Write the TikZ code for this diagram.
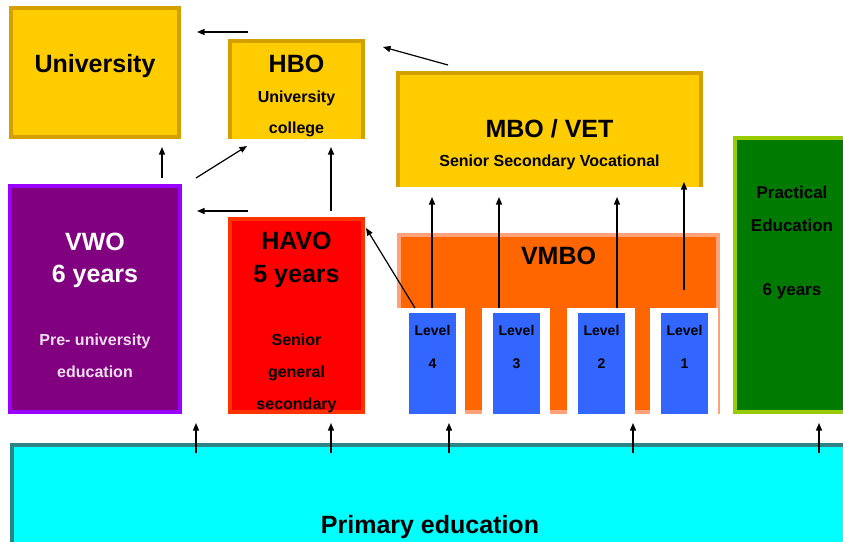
\documentclass[tikz,border=0pt]{standalone}
\usepackage{fontspec}
\setmainfont{Liberation Sans}
\usetikzlibrary{arrows.meta,calc}
\definecolor{goldfill}{HTML}{FFCC00}
\definecolor{goldline}{HTML}{D4A000}
\definecolor{purpfill}{HTML}{800080}
\definecolor{purpline}{HTML}{9900FF}
\definecolor{redfill}{HTML}{FF0000}
\definecolor{redline}{HTML}{FF3300}
\definecolor{orfill}{HTML}{FF6600}
\definecolor{orline}{HTML}{FFA27A}
\definecolor{bluefill}{HTML}{3366FF}
\definecolor{greenfill}{HTML}{007A00}
\definecolor{greenline}{HTML}{99CC00}
\definecolor{cyanfill}{HTML}{00FFFF}
\definecolor{cyanline}{HTML}{2E8484}
\definecolor{paletext}{HTML}{F2DDF2}
\begin{document}
\begin{tikzpicture}[x=1pt,y=-1pt,
  box/.style={inner sep=0pt, outer sep=0pt, line width=4pt},
  big/.style={font=\bfseries\fontsize{25}{30}\selectfont, anchor=base, inner sep=0pt},
  small/.style={font=\bfseries\fontsize{16}{19}\selectfont, anchor=base, inner sep=0pt},
  mid/.style={font=\bfseries\fontsize{17}{20}\selectfont, anchor=base, inner sep=0pt},
  lvl/.style={font=\bfseries\fontsize{14}{17}\selectfont, anchor=base, inner sep=0pt},
  arr/.style={line width=1.2pt, -{Triangle[length=7.5pt,width=6pt]}}]
\useasboundingbox (0,0) rectangle (843,541);
\fill[white] (0,0) rectangle (843,541);
% University
\node[box, fill=goldfill, draw=goldline, minimum width=168pt, minimum height=129pt] (uni) at (95,72.5) {};
\node[big] (unit) at (95,72) {University};
% HBO
\node[box, fill=goldfill, minimum width=137pt, minimum height=100pt] (hbo) at (296.5,89) {};
\draw[goldline, line width=4pt] ($(hbo.south west)+(2,0)$) -- ($(hbo.north west)+(2,2)$) -- ($(hbo.north east)+(-2,2)$) -- ($(hbo.south east)+(-2,0)$);
\node[big] (hbot) at (296.5,72) {HBO};
\node[small] (hbos1) at (296.5,102) {University};
\node[small] (hbos2) at (296.5,133) {college};
% MBO
\node[box, fill=goldfill, minimum width=307pt, minimum height=116pt] (mbo) at (549.5,129) {};
\draw[goldline, line width=4pt] ($(mbo.south west)+(2,0)$) -- ($(mbo.north west)+(2,2)$) -- ($(mbo.north east)+(-2,2)$) -- ($(mbo.south east)+(-2,0)$);
\node[big] (mbot) at (549.5,137) {MBO / VET};
\node[small] (mbos) at (549.5,166) {Senior Secondary Vocational};
% Practical education
\node[box, fill=greenfill, draw=greenline, minimum width=110pt, minimum height=274pt] (prac) at (790,275) {};
\node[mid] (prac1) at (792,198) {Practical};
\node[mid] (prac2) at (792,231) {Education};
\node[mid] (prac3) at (792,295) {6 years};
% VWO
\node[box, fill=purpfill, draw=purpline, minimum width=170pt, minimum height=226pt] (vwo) at (95,299) {};
\node[big, text=white] (vwo1) at (95,250) {VWO};
\node[big, text=white] (vwo2) at (95,282) {6 years};
\node[small, text=paletext] (vwo3) at (95,345) {Pre- university};
\node[small, text=paletext] (vwo4) at (95,377) {education};
% HAVO
\node[box, fill=redfill, draw=redline, minimum width=133pt, minimum height=193pt] (havo) at (296.5,315.5) {};
\node[big] (havo1) at (296.5,249) {HAVO};
\node[big] (havo2) at (296.5,282) {5 years};
\node[small] (havo3) at (296.5,345) {Senior};
\node[small] (havo4) at (296.5,377) {general};
\node[small] (havo5) at (296.5,409) {secondary};
% VMBO
\node[box, fill=orfill, draw=orline, minimum width=319pt, minimum height=177pt] (vmbo) at (558.5,323.5) {};
\node[big] (vmbot) at (558.5,264) {VMBO};
\foreach \n/\sx/\bx/\d in {four/431/432.5/4, three/516/516.5/3, two/600.5/601.5/2, one/684/684.5/1}{
  \node[inner sep=0pt, fill=white, minimum width=68pt, minimum height=106pt] (slot\n) at (\sx,361) {};
  \node[inner sep=0pt, fill=bluefill, minimum width=47pt, minimum height=101pt] (lev\n) at (\bx,363.5) {};
  \node[lvl] (levt\n) at (\bx,335) {Level};
  \node[lvl] (levd\n) at (\bx,368) {\d};
}
% Primary
\node[box, fill=cyanfill, draw=cyanline, minimum width=836pt, minimum height=110pt] (prim) at (430,500) {};
\node[big] (primt) at (430,533) {Primary education};
% arrow coordinates
\coordinate (a1s) at (248,32); \coordinate (a1e) at (197,32);
\coordinate (a2s) at (448,65); \coordinate (a2e) at (383,47);
\coordinate (a3s) at (162,178); \coordinate (a3e) at (162,147);
\coordinate (a4s) at (196,178); \coordinate (a4e) at (247,146);
\coordinate (a5s) at (331,211); \coordinate (a5e) at (331,147);
\coordinate (a6s) at (248,211); \coordinate (a6e) at (197,211);
\coordinate (a7s) at (415,308); \coordinate (a7e) at (366,228);
\coordinate (l4s) at (432,308); \coordinate (l4e) at (432,197);
\coordinate (l3s) at (499,308); \coordinate (l3e) at (499,197);
\coordinate (l2s) at (617,308); \coordinate (l2e) at (617,197);
\coordinate (l1s) at (684,290); \coordinate (l1e) at (684,182);
\draw[arr] (a1s) -- (a1e);
\draw[arr] (a2s) -- (a2e);
\draw[arr] (a3s) -- (a3e);
\draw[arr] (a4s) -- (a4e);
\draw[arr] (a5s) -- (a5e);
\draw[arr] (a6s) -- (a6e);
\draw[arr] (a7s) -- (a7e);
\draw[arr] (l4s) -- (l4e);
\draw[arr] (l3s) -- (l3e);
\draw[arr] (l2s) -- (l2e);
\draw[arr] (l1s) -- (l1e);
\foreach \x/\nm in {196/p1, 331/p2, 449/p3, 633/p4, 819/p5}{
  \coordinate (\nm s) at (\x,453);
  \coordinate (\nm e) at (\x,423);
  \draw[arr] (\nm s) -- (\nm e);
}
\end{tikzpicture}
\end{document}
